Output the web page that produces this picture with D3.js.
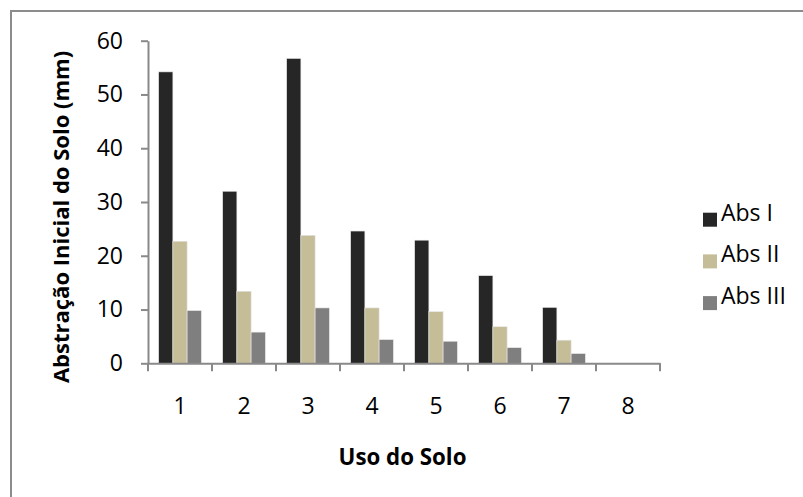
<!DOCTYPE html>
<html><head><meta charset="utf-8">
<script src="https://cdn.jsdelivr.net/npm/d3@7"></script>
<style>body{margin:0;background:#fff}svg{display:block}</style>
</head><body>
<script>
const categories = ["1","2","3","4","5","6","7","8"];
const seriesNames = ["Abs I","Abs II","Abs III"];
const absI   = [54.2, 32.0, 56.7, 24.6, 22.9, 16.3, 10.4, 0];
const absII  = [22.7, 13.4, 23.8, 10.3,  9.6,  6.8,  4.3, 0];
const absIII = [ 9.8,  5.8, 10.3,  4.4,  4.1,  2.9,  1.8, 0];
const yTicks = [0,10,20,30,40,50,60];
const colors = ["#262626","#C4BD97","#7F7F7F"];
const series = [absI, absII, absIII];

const W = 803, H = 497;
const svg = d3.select("body").append("svg").attr("width", W).attr("height", H);

// outer frame
svg.append("rect").attr("x", 11).attr("y", 11).attr("width", 820).attr("height", 520)
  .attr("fill", "none").attr("stroke", "#8c8c8c").attr("stroke-width", 2);

const x0 = d3.scaleBand().domain(categories).range([148, 660]).paddingInner(0).paddingOuter(0);
const x1 = d3.scaleBand().domain(seriesNames).range([0, x0.bandwidth()]).paddingOuter(0.75).paddingInner(0);
const y = d3.scaleLinear().domain([0, 60]).range([363.3, 40.7]);

const font = "'Open Sans', sans-serif";

// bars
const g = svg.append("g");
categories.forEach((c, i) => {
  series.forEach((s, k) => {
    const v = s[i];
    if (v <= 0) return;
    g.append("rect")
      .attr("x", x0(c) + x1(seriesNames[k]))
      .attr("y", y(v))
      .attr("width", x1.bandwidth())
      .attr("height", y(0) - y(v))
      .attr("fill", colors[k])
      .attr("stroke", "#e6e6e6").attr("stroke-width", 0.6);
  });
});

// y axis
const yAxis = svg.append("g").attr("transform", "translate(148,0)")
  .call(d3.axisLeft(y).tickValues(yTicks).tickSize(7).tickPadding(18).tickSizeOuter(0));
yAxis.select(".domain").attr("stroke", "#898989").attr("stroke-width", 2);
yAxis.selectAll(".tick line").attr("stroke", "#898989").attr("stroke-width", 2);
yAxis.selectAll("text").attr("font-family", font).attr("font-size", 23).attr("fill", "#000");

// x axis
const xAxis = svg.append("g").attr("transform", `translate(0,${y(0)})`)
  .call(d3.axisBottom(x0).tickSize(0).tickPadding(0));
xAxis.select(".domain").attr("stroke", "#898989").attr("stroke-width", 2);
xAxis.selectAll(".tick line").remove();
xAxis.selectAll(".tick text").attr("font-family", font).attr("font-size", 23).attr("fill", "#000")
  .attr("dy", null).attr("y", 51);
// boundary ticks
const bounds = categories.map(c => x0(c)).concat([x0(categories[categories.length-1]) + x0.bandwidth()]);
xAxis.selectAll(".btick").data(bounds).enter().append("line")
  .attr("x1", d => d).attr("x2", d => d).attr("y1", 0).attr("y2", 8)
  .attr("stroke", "#898989").attr("stroke-width", 2);

// axis titles
svg.append("text").attr("x", 402.5).attr("y", 465).attr("text-anchor", "middle")
  .attr("font-family", font).attr("font-weight", "bold").attr("font-size", 22.3)
  .text("Uso do Solo");
svg.append("text").attr("transform", "translate(69,217) rotate(-90)").attr("text-anchor", "middle")
  .attr("font-family", font).attr("font-weight", "bold").attr("font-size", 22)
  .text("Abstração Inicial do Solo (mm)");

// legend
const leg = svg.append("g");
seriesNames.forEach((n, k) => {
  const cy = 212.7 + k * 41.7;
  leg.append("rect").attr("x", 703).attr("y", cy).attr("width", 14).attr("height", 14).attr("fill", colors[k]);
  leg.append("text").attr("x", 721).attr("y", cy + 8).attr("font-family", font).attr("font-size", 23)
    .attr("fill", "#000").text(n);
});
</script>
</body></html>
